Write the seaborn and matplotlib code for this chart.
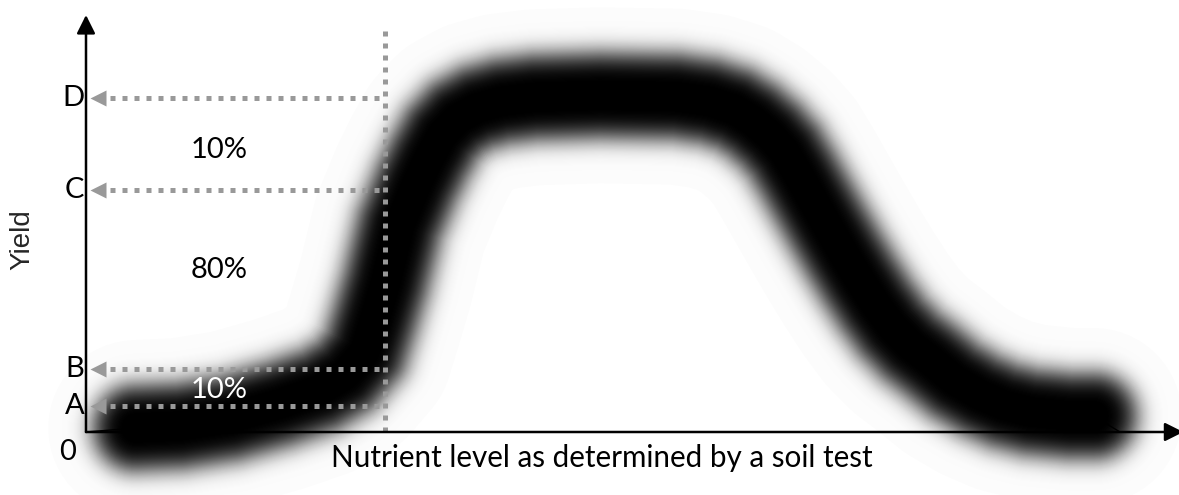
from math import erf, sqrt

import numpy as np
import pandas as pd
import seaborn as sns
import matplotlib.pyplot as plt

# yield response curve (nutrient level vs yield, D level = 100)
nutrient = [0, 4.6, 8.6, 13.2, 17.7, 21.4, 23.7, 25.5, 26.4, 27.4, 28.7, 30.3, 31.4,
            32.6, 34.0, 35.8, 38.0, 41.0, 47.0, 54.0, 57.0, 59.3, 61.0, 62.6, 63.9,
            65.1, 66.4, 67.9, 69.4, 70.8, 72.3, 73.8, 75.5, 77.2, 79.5, 81.8, 84.0,
            86.4, 90.0, 92.2, 94.6]
yield_ = [0, 1.2, 1.8, 4.2, 8.4, 12.6, 17.1, 24.0, 33.5, 44.6, 62.0, 74.6, 82.0,
          89.0, 93.8, 97.0, 99.0, 100.2, 100.8, 100.4, 99.0, 96.6, 93.2, 88.8, 84.0,
          77.5, 70.0, 61.4, 53.0, 45.5, 38.0, 31.4, 25.8, 21.6, 15.5, 11.1, 8.0,
          6.0, 4.8, 4.8, 0]

# yield levels marked on the y axis
level_names = ["D", "C", "B", "A"]
level_values = [100, 72.5, 18.9, 7.8]
soil_test = 27.4  # nutrient level of the vertical dotted line

pct_labels = ["10%", "80%", "10%"]
pct_y = [84.4, 48.5, 12.6]

sns.set_theme(style="white")
plt.rcParams["font.family"] = ["Lato", "DejaVu Sans"]

df = pd.DataFrame({"nutrient": nutrient, "yield": yield_})
band = df.iloc[1:-1]

fig = plt.figure(figsize=(11.79, 4.95), dpi=100)
ax = fig.add_axes([86 / 1179, 63 / 495, 1093 / 1179, 417 / 495])
ax.set_xlim(0, 100)
ax.set_ylim(0, 124.85)
ax.axis("off")

px = 72 / 100  # points per pixel
round_kw = dict(solid_capstyle="round", solid_joinstyle="round", clip_on=False)

# blur look: faint halo, then stacked translucent strokes whose summed
# opacity follows a gaussian-blurred edge (half width w, sigma sg, in pixels)
sns.lineplot(data=band, x="nutrient", y="yield", ax=ax, color="0.55", alpha=0.022,
             lw=176 * px, **round_kw)
w, sg = 41, 12
r_core = w - 2.4 * sg
prev_t = 1.0
for r in np.linspace(w + 2.8 * sg, r_core, 60):
    opacity = min(0.5 * (1 + erf((w - r) / (sg * sqrt(2)))), 0.992)
    t = 1 - opacity
    a = 1 - t / prev_t
    prev_t = t
    if a <= 0.001:
        continue
    sns.lineplot(data=band, x="nutrient", y="yield", ax=ax, color="black", alpha=a,
                 lw=2 * r * px, **round_kw)
sns.lineplot(data=band, x="nutrient", y="yield", ax=ax, color="black",
             lw=2 * r_core * px, **round_kw)
sns.lineplot(data=df, x="nutrient", y="yield", ax=ax, color="black", lw=1, clip_on=False)

# axes with arrows
ax.annotate("", xy=(0, 1), xytext=(0, 0), xycoords="axes fraction",
            arrowprops=dict(arrowstyle="-|>", color="black", lw=1.8,
                            mutation_scale=28, shrinkA=0, shrinkB=0))
ax.annotate("", xy=(1.004, 0), xytext=(0, 0), xycoords="axes fraction",
            arrowprops=dict(arrowstyle="-|>", color="black", lw=1.8,
                            mutation_scale=28, shrinkA=0, shrinkB=0))

gray = "#999999"
ax.plot([soil_test, soil_test], [0, 120.4], color=gray, lw=5 * px,
        ls=(0, (1, 1.4)), clip_on=False)
for name, val in zip(level_names, level_values):
    ax.plot([2.2, soil_test], [val, val], color=gray, lw=5 * px,
            ls=(0, (1, 1.4)), clip_on=False)
    ax.plot(1.1, val, marker="<", ms=12, color=gray, mec="none", clip_on=False)
    ax.text(-0.15, val, name, ha="right", va="center", fontsize=21, color="black")
ax.text(-0.9, -6, "0", ha="right", va="center", fontsize=21, color="black")

for lab, yv, col in zip(pct_labels, pct_y, ["black", "black", "white"]):
    ax.text(12.2, yv, lab, ha="center", va="center", fontsize=21, color=col)

ax.text(47.2, -7.8, "Nutrient level as determined by a soil test", ha="center",
        va="center", fontsize=21.3, color="black")
fig.text(22 / 1179, 1 - 240 / 495, "Yield", rotation=90, ha="center", va="center",
         fontsize=20, family="Liberation Sans")

fig.savefig("out.png", dpi=100)
